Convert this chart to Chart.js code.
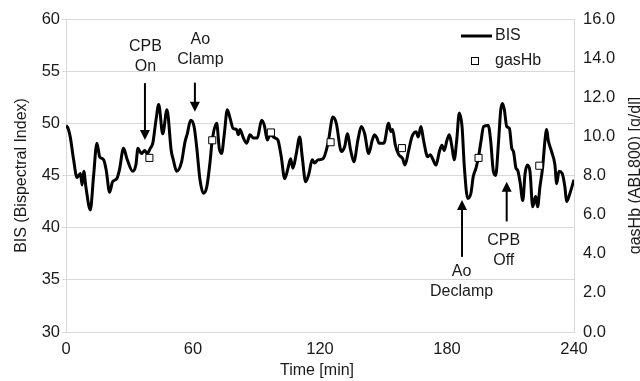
<!DOCTYPE html>
<html>
<head>
<meta charset="utf-8">
<script src="https://cdn.jsdelivr.net/npm/chart.js@4.4.0/dist/chart.umd.min.js"></script>
<style>
html, body { margin: 0; padding: 0; background: #fff; }
#wrap { width: 640px; height: 381px; }
</style>
</head>
<body>
<div id="wrap"><canvas id="bisChart"></canvas></div>
<script>
// BIS trace (min, index)
var bisTime = [0, 1, 2, 3.6, 5.2, 6.8, 7.6, 8.4, 9.4, 11.5, 13, 14.6, 15.9, 17.8, 19, 20.6, 22, 24, 25.2, 27.2,
	28.8, 31.5, 33, 34, 35.6, 37.2, 38.3, 39.8, 41, 42.5, 43.8, 45.7, 47.7, 49.7, 50.7, 52.3, 54.6, 56.2, 57.3, 58.9,
	60.5, 61.7, 63.3, 64.9, 66.5, 68, 69.1, 71.2, 72.4, 73.5, 74.8, 76.2, 77.5, 79, 80.6, 81.4, 82.2, 83.8, 85.4, 86.9,
	88.5, 90.4, 92.4, 93.7, 95.1, 96.4, 98.7, 100.1, 101.7, 103.3, 104.9, 106.1, 107.2, 108.8, 110.4, 111.6, 113.2, 114.8, 116.3, 117.5,
	119, 121.4, 123.8, 126.1, 127.7, 130.1, 131.7, 132.9, 134.5, 136, 137.9, 139.5, 141.1, 143, 144.7, 145.8, 146.9, 147.9, 150.2, 152.4,
	153.5, 154.3, 155.6, 157.2, 159.1, 160.1, 161.9, 163.4, 165.4, 166.4, 167.7, 168.9, 170.9, 172.1, 173.2, 174.8, 176.4, 177.6, 178.7, 180,
	181.1, 182.3, 183.4, 184.6, 185.8, 187.1, 188.2, 189.8, 191.3, 192.4, 193.7, 194.9, 196, 197.3, 199.5, 200.6, 201.9, 203, 204.3, 205.4,
	206.2, 207.1, 208.2, 209.5, 210.6, 211.4, 212.6, 213.4, 214.5, 215.8, 216.9, 218, 219.2, 220.5, 221.9, 222.8, 223.9, 225.2, 226.3, 227.1,
	227.8, 229.4, 231, 231.8, 232.9, 234.4, 235.7, 236.5, 238.1, 240];
var bisValue = [49.8, 49.5, 48.7, 46.5, 44.8, 45.2, 44.1, 45.4, 43.9, 41.7, 44.9, 48.1, 46.8, 46.5, 45.5, 43.4, 44.4, 44.7, 45.5, 47.6,
	46.6, 45.4, 46.0, 47.6, 47.1, 47.4, 47.1, 47.6, 48.1, 50.3, 51.8, 49.0, 51.3, 47.4, 46.5, 45.4, 46.3, 48.2, 49.0, 50.3,
	49.7, 47.8, 44.6, 43.3, 43.9, 46.2, 48.4, 50.0, 47.6, 47.1, 49.0, 51.3, 50.5, 49.5, 49.4, 48.9, 49.4, 48.6, 48.1, 48.9,
	48.6, 48.6, 50.3, 49.8, 48.4, 48.9, 48.6, 48.4, 46.8, 44.7, 45.7, 46.6, 45.7, 47.1, 48.7, 46.8, 44.4, 45.2, 46.5, 46.2,
	46.5, 46.6, 48.1, 50.6, 50.0, 47.3, 47.8, 49.0, 47.4, 46.3, 48.4, 49.7, 49.0, 47.1, 48.4, 48.9, 48.6, 48.1, 48.1, 50.0,
	49.2, 49.4, 47.9, 47.0, 46.6, 46.0, 47.4, 48.7, 49.2, 48.7, 49.7, 48.4, 46.8, 47.0, 46.6, 46.0, 47.3, 47.9, 47.4, 48.4,
	48.9, 47.8, 46.5, 48.4, 51.0, 49.7, 45.8, 42.8, 43.3, 44.9, 45.7, 46.8, 48.2, 49.7, 49.8, 48.4, 45.4, 45.0, 48.1, 51.3,
	51.9, 51.3, 49.7, 49.5, 47.6, 47.3, 45.7, 45.5, 44.4, 42.6, 45.2, 46.0, 45.4, 42.0, 43.0, 42.0, 43.9, 45.8, 48.4, 49.4,
	48.4, 47.3, 46.0, 44.2, 45.4, 45.2, 43.9, 42.5, 43.3, 44.6];

// blood gas haemoglobin samples (min, g/dl)
var hbTime = [39.4, 69.1, 96.8, 125, 158.7, 194.9, 223.6];
var hbValue = [8.9, 9.8, 10.2, 9.7, 9.4, 8.9, 8.5];

var timeTicks = [0, 60, 120, 180, 240];
var bisTicks = [30, 35, 40, 45, 50, 55, 60];
var hbTicks = [0, 2, 4, 6, 8, 10, 12, 14, 16];

// surgical events: text lines, where the text sits, arrow start/end (BIS units)
var events = [
	{ text: ['CPB', 'On'], textTime: 37.5, textBis: 57.35, time: 37.3, from: 53.85, to: 48.4 },
	{ text: ['Ao', 'Clamp'], textTime: 63.5, textBis: 58.0, time: 60.9, from: 53.9, to: 51.1 },
	{ text: ['Ao', 'Declamp'], textTime: 186.9, textBis: 35.75, time: 187.1, from: 37.2, to: 42.65 },
	{ text: ['CPB', 'Off'], textTime: 206.8, textBis: 38.72, time: 208.2, from: 40.6, to: 44.4 }
];

var textColor = '#1a1a1a';
var gridColor = '#d9d9d9';
var fontFamily = '"Liberation Sans", Arial, sans-serif';

var overlay = {
	id: 'overlay',
	afterDraw: function(chart) {
		var ctx = chart.ctx;
		var xs = chart.scales.x, ys = chart.scales.y;
		var area = chart.chartArea;
		ctx.save();
		ctx.fillStyle = textColor;
		ctx.strokeStyle = '#000';
		ctx.font = '16px ' + fontFamily;
		ctx.textAlign = 'center';
		ctx.textBaseline = 'middle';

		events.forEach(function(ev) {
			var tx = xs.getPixelForValue(ev.textTime);
			var ty = ys.getPixelForValue(ev.textBis);
			ev.text.forEach(function(line, i) {
				ctx.fillText(line, tx, ty + i * 20);
			});
			var ax = xs.getPixelForValue(ev.time);
			var y0 = ys.getPixelForValue(ev.from);
			var y1 = ys.getPixelForValue(ev.to);
			var dir = y1 > y0 ? 1 : -1;
			ctx.fillStyle = '#000';
			ctx.lineWidth = 2;
			ctx.beginPath();
			ctx.moveTo(ax, y0);
			ctx.lineTo(ax, y1 - dir * 8);
			ctx.stroke();
			ctx.beginPath();
			ctx.moveTo(ax - 5, y1 - dir * 10);
			ctx.lineTo(ax + 5, y1 - dir * 10);
			ctx.lineTo(ax, y1);
			ctx.closePath();
			ctx.fill();
			ctx.fillStyle = textColor;
		});

		// legend
		ctx.textAlign = 'left';
		ctx.lineWidth = 3;
		ctx.beginPath();
		ctx.moveTo(area.right - 113, 36);
		ctx.lineTo(area.right - 82, 36);
		ctx.stroke();
		ctx.fillText('BIS', area.right - 79, 36);
		ctx.lineWidth = 1;
		ctx.fillStyle = '#fff';
		ctx.fillRect(area.right - 102.5, 57.5, 7, 7);
		ctx.strokeRect(area.right - 102.5, 57.5, 7, 7);
		ctx.fillStyle = textColor;
		ctx.fillText('gasHb', area.right - 79, 61);

		// axis titles
		var midY = (area.top + area.bottom) / 2;
		ctx.textAlign = 'center';
		ctx.fillText('Time [min]', (area.left + area.right) / 2 - 3, 371);
		ctx.save();
		ctx.translate(22, midY);
		ctx.rotate(-Math.PI / 2);
		ctx.fillText('BIS (Bispectral Index)', 0, 0);
		ctx.restore();
		ctx.save();
		ctx.translate(640, midY);
		ctx.rotate(-Math.PI / 2);
		ctx.textBaseline = 'alphabetic';
		ctx.fillText('gasHb (ABL800) [g/dl]', 0, 0);
		ctx.restore();
		ctx.restore();
	}
};

var bisPoints = bisTime.map(function(t, i) { return { x: t, y: bisValue[i] }; });
var hbPoints = hbTime.map(function(t, i) { return { x: t, y: hbValue[i] }; });

function setTicks(list) {
	return function(axis) {
		axis.ticks = list.map(function(v) { return { value: v }; });
	};
}

var ctx = document.getElementById('bisChart');

var bisChart = new Chart(ctx, {
	type: 'line',
	data: {
		datasets: [
			{
				label: 'BIS',
				data: bisPoints,
				yAxisID: 'y',
				borderColor: '#000',
				borderWidth: 3,
				pointRadius: 0,
				cubicInterpolationMode: 'monotone',
				order: 1
			},
			{
				label: 'gasHb',
				data: hbPoints,
				yAxisID: 'y1',
				showLine: false,
				pointStyle: 'rect',
				pointRadius: 5,
				pointBorderWidth: 1,
				pointBorderColor: '#000',
				pointBackgroundColor: '#fff',
				order: 0
			}
		]
	},
	options: {
		responsive: true,
		maintainAspectRatio: false,
		animation: false,
		layout: { padding: { top: 19, left: 0, right: 0, bottom: 0 } },
		plugins: {
			legend: { display: false },
			tooltip: { enabled: false }
		},
		scales: {
			x: {
				type: 'linear',
				min: 0,
				max: 240,
				afterBuildTicks: setTicks(timeTicks),
				afterFit: function(s) { s.height = 49; },
				grid: { display: false, drawTicks: false },
				border: { display: true, color: gridColor, width: 1 },
				ticks: { color: textColor, font: { size: 16.5, family: fontFamily }, padding: 8, maxRotation: 0 }
			},
			y: {
				position: 'left',
				min: 30,
				max: 60,
				afterBuildTicks: setTicks(bisTicks),
				afterFit: function(s) { s.width = 66; },
				grid: { color: gridColor, lineWidth: 1, tickLength: 4 },
				border: { display: true, color: gridColor, width: 1 },
				ticks: { color: textColor, font: { size: 16.5, family: fontFamily }, padding: 2 }
			},
			y1: {
				position: 'right',
				min: 0,
				max: 16,
				afterBuildTicks: setTicks(hbTicks),
				afterFit: function(s) { s.width = 66; },
				grid: { display: false, drawTicks: false },
				border: { display: true, color: gridColor, width: 1 },
				ticks: {
					color: textColor,
					font: { size: 16.5, family: fontFamily },
					padding: 9,
					callback: function(v) { return v.toFixed(1); }
				}
			}
		}
	},
	plugins: [overlay]
});
</script>
</body>
</html>
